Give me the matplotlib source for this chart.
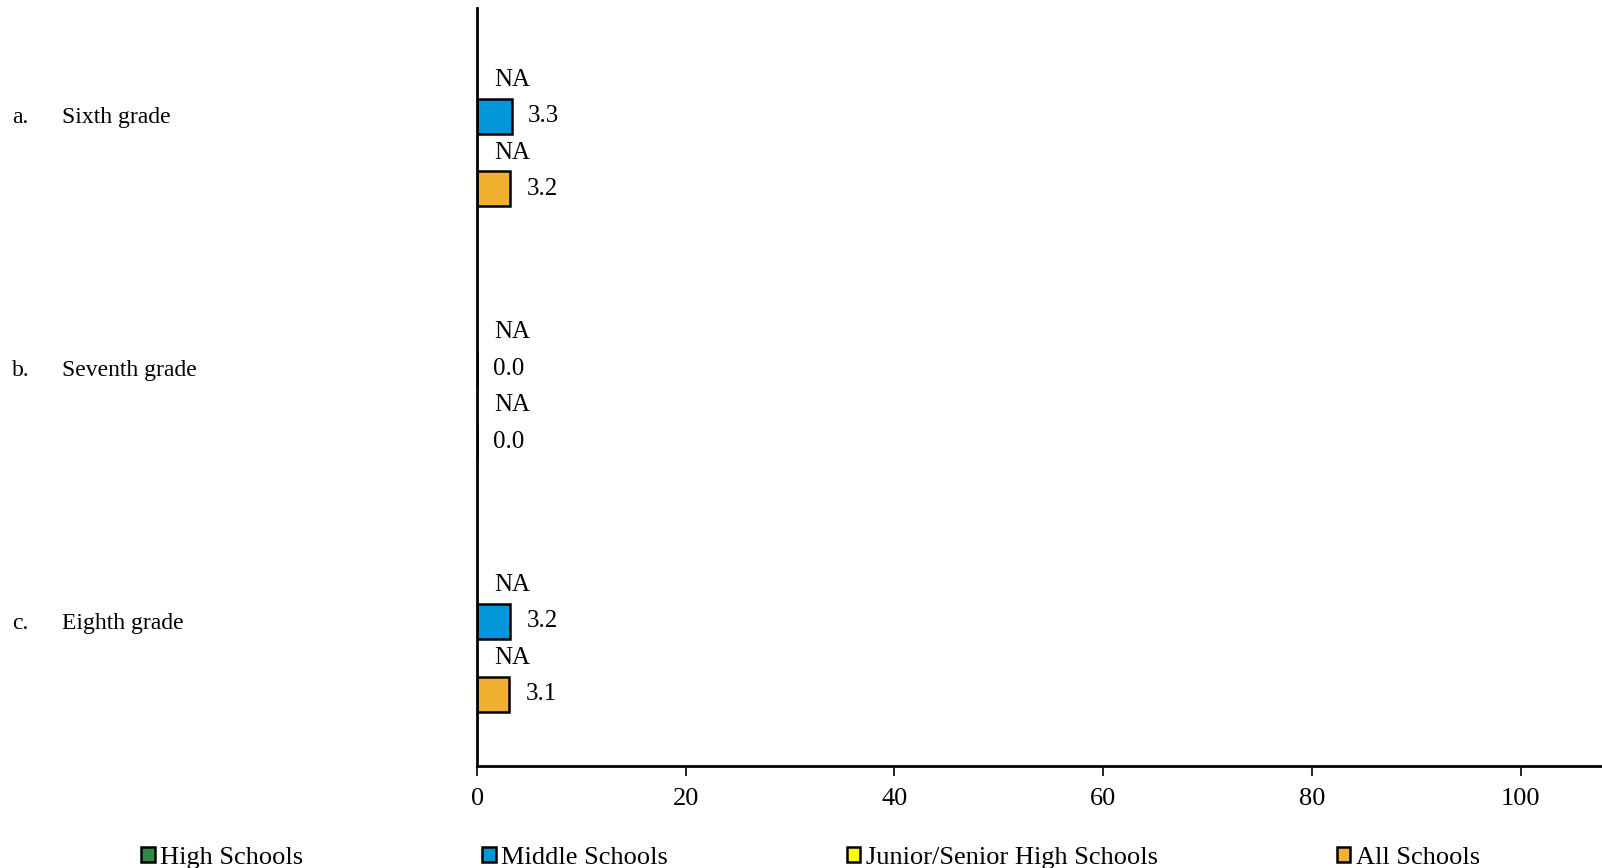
import matplotlib
matplotlib.use("Agg")
import matplotlib.pyplot as plt
from matplotlib.patches import Patch
from matplotlib.transforms import blended_transform_factory
import numpy as np

plt.rcParams['font.family'] = ['Liberation Serif', 'DejaVu Serif']

# data
letters = ["a.", "b.", "c."]
categories = ["Sixth grade", "Seventh grade", "Eighth grade"]
series_names = ["High Schools", "Middle Schools", "Junior/Senior High Schools", "All Schools"]
high_schools = [None, None, None]
middle_schools = [3.3, 0.0, 3.2]
junior_senior = [None, None, None]
all_schools = [3.2, 0.0, 3.1]
colors = ["#2E8B47", "#0096D8", "#FFFF00", "#F0B030"]
xticks = [0, 20, 40, 60, 80, 100]

series = [high_schools, middle_schools, junior_senior, all_schools]

fig = plt.figure(figsize=(16.02, 8.68), dpi=100)
ax = fig.add_axes([0.2978, 0.1175, 0.7022, 0.8733])

slot = 0.144
y = np.arange(len(categories))

for i, (vals, col) in enumerate(zip(series, colors)):
    ypos = y + (i - 1.5) * slot
    for yy, v in zip(ypos, vals):
        if v is None:
            ax.annotate("NA", xy=(0, yy), xytext=(17, 0), textcoords="offset pixels",
                        va="center", ha="left", fontsize=18)
        else:
            ax.barh(yy, v, height=slot * 0.96, color=col, edgecolor="black", linewidth=1.8)
            ax.annotate(f"{v:.1f}", xy=(v, yy), xytext=(16, 0), textcoords="offset pixels",
                        va="center", ha="left", fontsize=18)

ax.set_ylim(2.5, -0.5)
ax.set_xlim(0, 107.8)
ax.set_xticks(xticks)
ax.set_xticklabels([str(t) for t in xticks], fontsize=19)
ax.tick_params(axis="x", direction="out", length=7, width=1.2, pad=9)
ax.set_yticks([])
for s in ["top", "right"]:
    ax.spines[s].set_visible(False)
ax.spines["left"].set_linewidth(2)
ax.spines["bottom"].set_linewidth(2)

# category labels on the left
trans = blended_transform_factory(fig.transFigure, ax.transData)
for yy, let, cat in zip(y, letters, categories):
    ytxt = yy - 0.065
    ax.text(12 / 1602, ytxt, let, transform=trans, va="center", ha="left", fontsize=17)
    ax.text(62 / 1602, ytxt, cat, transform=trans, va="center", ha="left", fontsize=17)

handles = [Patch(facecolor=c, edgecolor="black", linewidth=1.8) for c in colors]
fig.legend(handles, series_names, loc="center", bbox_to_anchor=(0.506, 0.012), ncol=4,
           frameon=False, fontsize=19, handlelength=0.5, handleheight=0.5,
           handletextpad=0.2, columnspacing=6.8, borderpad=0)

fig.savefig("out.png", dpi=100)
